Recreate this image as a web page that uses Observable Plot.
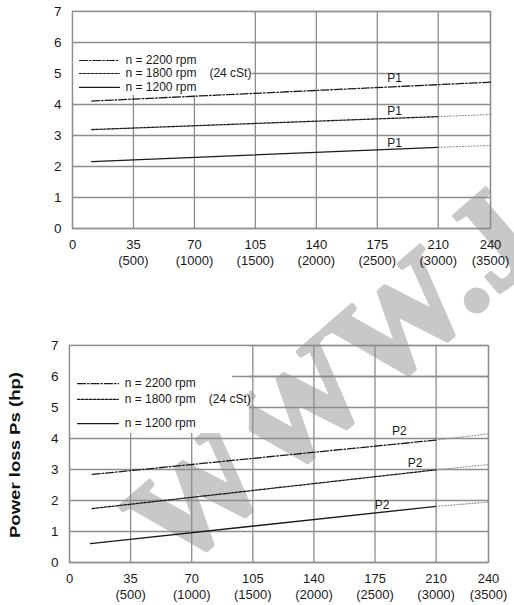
<!DOCTYPE html>
<html>
<head>
<meta charset="utf-8">
<script src="https://cdn.jsdelivr.net/npm/d3@7"></script>
<script src="https://cdn.jsdelivr.net/npm/@observablehq/plot@0.6"></script>
<style>
  html, body { margin: 0; padding: 0; background: #fff; }
  #wrap { position: relative; width: 514px; height: 605px; overflow: hidden; background: #fff; }
  #wm { position: absolute; left: 0; top: 0; pointer-events: none; }
  #topc { position: absolute; left: 0; top: 0; }
  #bottomc { position: absolute; left: 0; top: 300px; }
  #ylabel { position: absolute; left: 15px; top: 455px; transform: translate(-50%, -50%) rotate(-90deg) scaleX(1.28);
    font: bold 14.5px "Liberation Sans", Arial, sans-serif; color: #111; white-space: nowrap; }
</style>
</head>
<body>
<div id="wrap">
  <svg id="wm" width="514" height="605">
    <text x="0" y="0" transform="translate(176,574) rotate(-41)" font-family="Liberation Serif, Times New Roman, serif" font-weight="bold" font-size="134" fill="#c8c8c8" stroke="#c8c8c8" stroke-width="4" stroke-linejoin="round">WWW.J</text>
  </svg>
  <div id="topc"></div>
  <div id="bottomc"></div>
  <div id="ylabel">Power loss Ps (hp)</div>
</div>
<script>
// ---- axis ticks ----
const xTicks = [0, 35, 70, 105, 140, 175, 210, 240];
const rpmTicks = [null, 500, 1000, 1500, 2000, 2500, 3000, 3500];
const yTicks = [0, 1, 2, 3, 4, 5, 6, 7];

// ---- series: x = displacement ----
const speeds = ["n = 2200 rpm", "n = 1800 rpm", "n = 1200 rpm"];
// P1 (top chart)
const p1X_2200 = [11, 240];
const p1Y_2200 = [4.11, 4.72];
const p1X_1800 = [11, 210];
const p1Y_1800 = [3.19, 3.61];
const p1Ext_1800X = [210, 240];
const p1Ext_1800Y = [3.61, 3.68];
const p1X_1200 = [11, 210];
const p1Y_1200 = [2.16, 2.62];
const p1Ext_1200X = [210, 240];
const p1Ext_1200Y = [2.62, 2.68];
const p1LabelX = [185, 185, 185];
const p1LabelY = [4.86, 3.78, 2.74];
// P2 (bottom chart)
const p2X_2200 = [13, 210];
const p2Y_2200 = [2.84, 3.95];
const p2Ext_2200X = [210, 240];
const p2Ext_2200Y = [3.95, 4.15];
const p2X_1800 = [13, 210];
const p2Y_1800 = [1.74, 2.99];
const p2Ext_1800X = [210, 240];
const p2Ext_1800Y = [2.99, 3.16];
const p2X_1200 = [12, 210];
const p2Y_1200 = [0.61, 1.81];
const p2Ext_1200X = [210, 240];
const p2Ext_1200Y = [1.81, 1.95];
const p2LabelX = [189, 198, 179];
const p2LabelY = [4.24, 3.2, 1.86];

const FONT = "'Liberation Sans', Arial, sans-serif";
const GRID = "#8d8d8d";
const INK = "#1a1a1a";
const dashes = ["8,2,1.5,2", "2.6,1.4", null];

const pts = (xs, ys) => xs.map((x, i) => ({x, y: ys[i]}));

function seriesMark(xs, ys, k) {
  return Plot.line(pts(xs, ys), {x: "x", y: "y", stroke: INK, strokeWidth: 1.3, strokeDasharray: dashes[k]});
}
function extMark(xs, ys) {
  return Plot.line(pts(xs, ys), {x: "x", y: "y", stroke: "#8a8a8a", strokeWidth: 1.1, strokeDasharray: "1,2"});
}

function chart(cfg) {
  const legend = speeds.map((s, i) => ({s, i, y: cfg.legendY[i]}));
  const legendLines = legend.flatMap(d => [{i: d.i, x: cfg.legendX[0], y: d.y}, {i: d.i, x: cfg.legendX[1], y: d.y}]);
  const labels = cfg.labelX.map((x, i) => ({x, y: cfg.labelY[i], t: cfg.tag}));
  return Plot.plot({
    width: 514,
    height: cfg.height,
    marginLeft: cfg.ml, marginRight: cfg.mr, marginTop: cfg.mt, marginBottom: cfg.mb,
    x: {domain: [0, 240]},
    y: {domain: [0, 7]},
    style: {fontFamily: FONT, fontSize: "13px", color: INK, background: "transparent"},
    marks: [
      Plot.gridX(xTicks, {stroke: GRID, strokeOpacity: 1, strokeWidth: 1.3}),
      Plot.gridY(yTicks, {stroke: GRID, strokeOpacity: 1, strokeWidth: 1.3}),
      Plot.rect([cfg.mask], {x1: "x1", x2: "x2", y1: "y1", y2: "y2", fill: "white"}),
      Plot.ruleY([cfg.keep], {y: "y", x1: "x1", x2: 240, stroke: GRID, strokeWidth: 1.3}),
      Plot.frame({stroke: GRID, strokeWidth: 1.3}),
      ...cfg.series,
      ...[0, 1, 2].map(k => Plot.line(legendLines.filter(d => d.i === k), {x: "x", y: "y", stroke: INK, strokeWidth: 1.2, strokeDasharray: dashes[k]})),
      Plot.text(legend, {x: cfg.legendX[2], y: "y", text: "s", textAnchor: "start", fontSize: 12, fill: INK}),
      Plot.text(["(24 cSt)"], {x: cfg.cstX, y: cfg.legendY[1], text: d => d, textAnchor: "start", fontSize: 12, fill: INK}),
      Plot.text(labels, {x: "x", y: "y", text: "t", fontSize: 12, fill: INK}),
      Plot.axisY(yTicks, {tickSize: 0, tickPadding: 11, label: null, fontSize: 13.5}),
      Plot.axisX(xTicks, {tickSize: 0, tickPadding: 8, label: null, fontSize: 13, lineHeight: 1.3,
        tickFormat: (d, i) => rpmTicks[i] == null ? String(d) : `${d}\n(${rpmTicks[i]})`})
    ]
  });
}

const topChart = chart({
  height: 270, ml: 72, mr: 24, mt: 11, mb: 42,
  mask: {x1: 0.3, x2: 103, y1: 4.29, y2: 6.98},
  keep: {y: 6, x1: 0},
  legendX: [4, 27, 30.4], legendY: [5.42, 5.0, 4.55], cstX: 78.6,
  labelX: p1LabelX, labelY: p1LabelY, tag: "P1",
  series: [
    seriesMark(p1X_2200, p1Y_2200, 0),
    seriesMark(p1X_1800, p1Y_1800, 1), extMark(p1Ext_1800X, p1Ext_1800Y),
    seriesMark(p1X_1200, p1Y_1200, 2), extMark(p1Ext_1200X, p1Ext_1200Y)
  ]
});
document.getElementById("topc").append(topChart);

const bottomChart = chart({
  height: 305, ml: 69, mr: 26, mt: 45, mb: 43,
  mask: {x1: 0.3, x2: 103, y1: 4.16, y2: 6.98},
  keep: {y: 6, x1: 93.5},
  legendX: [4.6, 28, 31.6], legendY: [5.77, 5.26, 4.48], cstX: 79.8,
  labelX: p2LabelX, labelY: p2LabelY, tag: "P2",
  series: [
    seriesMark(p2X_2200, p2Y_2200, 0), extMark(p2Ext_2200X, p2Ext_2200Y),
    seriesMark(p2X_1800, p2Y_1800, 1), extMark(p2Ext_1800X, p2Ext_1800Y),
    seriesMark(p2X_1200, p2Y_1200, 2), extMark(p2Ext_1200X, p2Ext_1200Y)
  ]
});
document.getElementById("bottomc").append(bottomChart);
</script>
</body>
</html>
